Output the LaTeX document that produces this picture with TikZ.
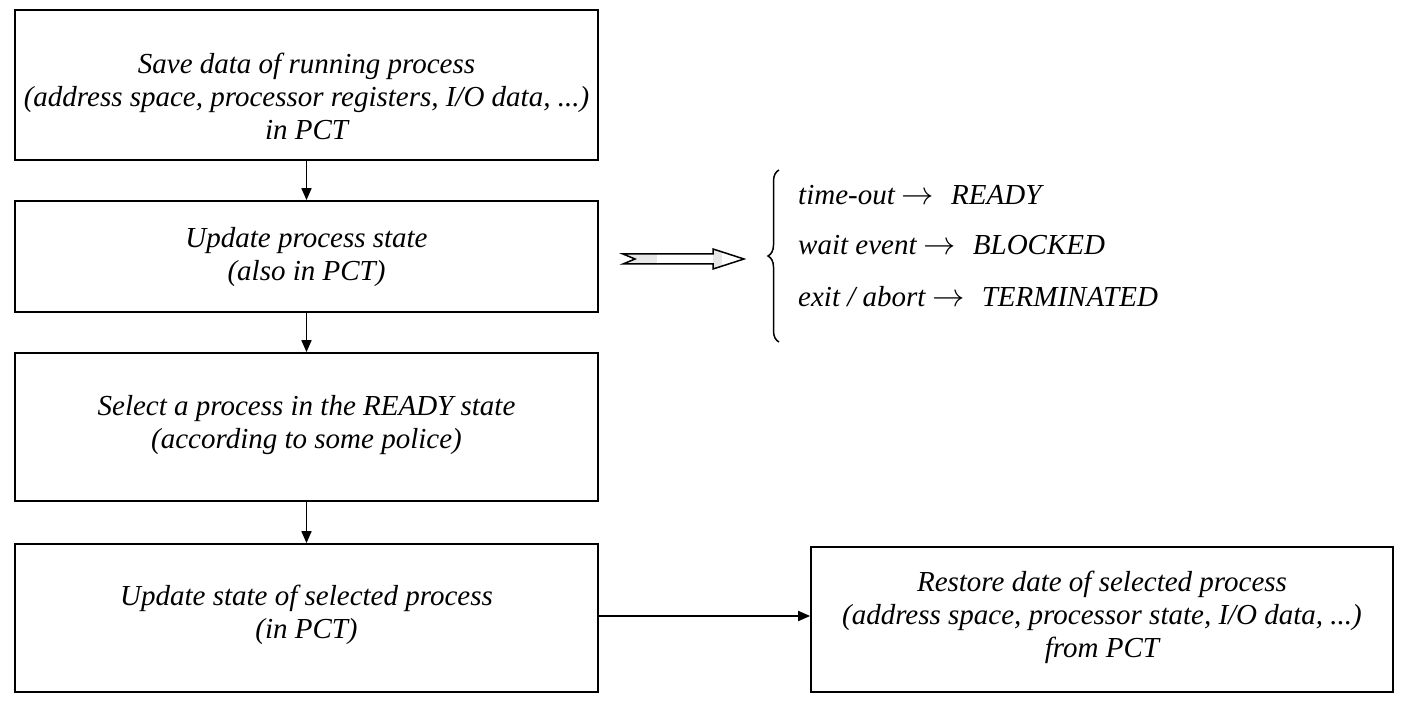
\documentclass[tikz,border=0pt]{standalone}
\usepackage{fontspec}
\setmainfont{Liberation Serif}
\usetikzlibrary{arrows.meta,decorations.pathreplacing}
\tikzset{
  box/.style={draw=black, line width=1.7pt, rectangle, inner sep=0pt},
  txt/.style={font=\fontsize{29}{33}\selectfont\itshape, align=center, inner sep=0pt},
  flow/.style={draw=black, line width=1.7pt, -{Triangle[length=12pt,width=10pt]}},
  state/.style={font=\fontsize{29}{33}\selectfont\itshape, anchor=west, inner sep=0pt}
}
\newcommand{\myarr}{\hspace{7pt}\scalebox{1.3}{$\rightarrow$}\hspace{17pt}}
\begin{document}
\begin{tikzpicture}[x=1pt,y=-1pt]
\useasboundingbox (0,0) rectangle (1406,708);
\fill[white] (0,0) rectangle (1406,708);
% boxes
\node[box, minimum width=583pt, minimum height=150pt] (b1) at (306.5,85) {};
\node[box, minimum width=583pt, minimum height=111pt] (b2) at (306.5,256.5) {};
\node[box, minimum width=583pt, minimum height=148pt] (b3) at (306.5,427) {};
\node[box, minimum width=583pt, minimum height=148pt] (b4) at (306.5,618) {};
\node[box, minimum width=582pt, minimum height=145pt] (b5) at (1102,619.5) {};
% texts
\node[txt] (t1) at (306.5,96) {Save data of running process\\(address space, processor registers, I/O data, ...)\\in PCT};
\node[txt] (t2) at (306.5,257) {Update process state\\(also in PCT)};
\node[txt] (t3) at (306.5,425) {Select a process in the READY state\\(according to some police)};
\node[txt] (t4) at (306.5,615) {Update state of selected process\\(in PCT)};
\node[txt] (t5) at (1102,617) {Restore date of selected process\\(address space, processor state, I/O data, ...)\\from PCT};
% connectors
\draw[flow] (b1.south) -- (b2.north);
\draw[flow] (b2.south) -- (b3.north);
\draw[flow] (b3.south) -- (b4.north);
\draw[flow] ([yshift=2pt]b4.east) -- ([yshift=2pt]b4.east -| b5.west);
% hollow double arrow
\begin{scope}
\clip (623,254) -- (713,254) -- (713,249) -- (744,259) -- (713,269) -- (713,264) -- (623,264) -- (635,259) -- cycle;
\fill[white] (620,245) rectangle (750,275);
\fill[gray!18] (620,245) rectangle (657,275);
\fill[gray!18] (713,245) rectangle (722,275);
\end{scope}
\draw[line width=1.5pt, line join=miter] (623,254) -- (713,254) -- (713,249) -- (744,259) -- (713,269) -- (713,264) -- (623,264) -- (635,259) -- cycle;
% brace
\draw[line width=1.5pt, decorate, decoration={brace, amplitude=11pt}] (779,342) -- (779,170);
% states
\node[state] (s1) at (798,195) {time-out\myarr READY};
\node[state] (s2) at (798,245) {wait event\myarr BLOCKED};
\node[state] (s3) at (798,297) {exit / abort\myarr TERMINATED};
\end{tikzpicture}
\end{document}
